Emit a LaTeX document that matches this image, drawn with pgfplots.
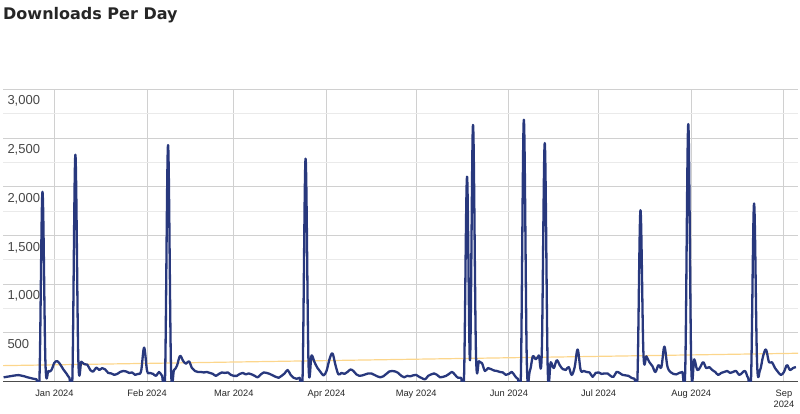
\documentclass[border=0pt]{standalone}
\usepackage{fontspec}
\setmainfont{Liberation Sans}
\newfontfamily\titlefont{DejaVu Sans}
\usepackage{pgfplots}
\pgfplotsset{compat=1.18}
\usepackage{pgfplotstable}

\definecolor{navy}{RGB}{40,56,125}
\definecolor{trend}{RGB}{252,214,140}
\definecolor{gridc}{RGB}{208,208,208}
\definecolor{gridm}{RGB}{234,234,234}

% day 0 = 1 Jan 2024
\pgfplotstableread{
day n
-17 45
-16 50
-15 55
-14 60
-13 65
-12 68
-11 62
-10 55
-9 45
-8 38
-7 30
-6 25
-5 40
-4 1950
-3 190
-2 110
-1 120
0 195
1 210
2 175
3 125
4 85
5 40
6 30
7 2330
8 220
9 205
10 180
11 175
12 120
13 105
14 145
15 120
16 140
17 125
18 90
19 85
20 70
21 80
22 100
23 110
24 105
25 90
26 95
27 70
28 80
29 110
30 350
31 110
32 90
33 80
34 60
35 100
36 60
37 40
38 2430
39 140
40 120
41 165
42 265
43 215
44 185
45 210
46 140
47 110
48 100
49 100
50 95
51 100
52 90
53 80
54 60
55 80
56 95
57 90
58 95
59 70
60 60
61 60
62 80
63 90
64 75
65 85
66 75
67 60
68 45
69 75
70 95
71 90
72 80
73 65
74 50
75 40
76 60
77 85
78 120
79 70
80 40
81 30
82 40
83 50
84 2290
85 170
86 270
87 200
88 140
89 100
90 65
91 110
92 230
93 290
94 170
95 75
96 90
97 80
98 100
99 125
100 110
101 75
102 60
103 65
104 75
105 85
106 85
107 70
108 55
109 45
110 55
111 80
112 105
113 110
114 105
115 90
116 60
117 45
118 60
119 55
120 65
121 70
122 50
123 35
124 25
125 60
126 75
127 85
128 70
129 45
130 50
131 60
132 80
133 100
134 70
135 40
136 40
137 50
138 2105
139 220
140 2636
141 280
142 210
143 190
144 110
145 140
146 130
147 115
148 110
149 100
150 95
151 70
152 80
153 100
154 60
155 30
156 50
157 2690
158 200
159 110
160 260
161 230
162 270
163 300
164 2450
165 120
166 200
167 140
168 220
169 170
170 130
171 120
172 150
173 70
174 150
175 330
176 120
177 110
178 100
179 95
180 50
181 90
182 95
183 80
184 85
185 85
186 60
187 50
188 100
189 90
190 70
191 65
192 60
193 40
194 30
195 40
196 1760
197 290
198 260
199 200
200 160
201 100
202 170
203 150
204 360
205 160
206 100
207 80
208 75
209 90
210 100
211 150
212 2645
213 160
214 230
215 120
216 150
217 200
218 140
219 150
220 120
221 100
222 70
223 90
224 100
225 110
226 90
227 100
228 110
229 70
230 90
231 110
232 40
233 40
234 1830
235 200
236 120
237 260
238 330
239 200
240 200
241 140
242 100
243 70
244 100
245 170
246 120
247 140
248 150
}\downloads

\begin{document}
\begin{tikzpicture}
\useasboundingbox (0,0) rectangle (800pt,414pt);
\node[anchor=base west, inner sep=0pt, text=black!85,
      font=\titlefont\bfseries\fontsize{16}{19}\selectfont] at (3pt,394.7pt) {Downloads Per Day};
\begin{axis}[
  at={(3pt,32.3pt)}, anchor=south west,
  scale only axis, width=795pt, height=292.2pt,
  xmin=-17.2, xmax=248.7, ymin=0, ymax=3000,
  axis line style={draw=none},
  tick style={draw=none},
  xtick={0,31,60,91,121,152,182,213,244},
  xticklabels={Jan 2024,Feb 2024,Mar 2024,Apr 2024,May 2024,Jun 2024,Jul 2024,Aug 2024,{Sep\\2024}},
  xticklabel style={font=\fontsize{9.3}{11.5}\selectfont, align=center, text=black!85,
                    inner sep=0pt, anchor=north, yshift=-8pt},
  ytick={500,1000,1500,2000,2500,3000},
  minor y tick num=1,
  yticklabel style={font=\fontsize{13}{15}\selectfont, text=black!72, inner sep=0pt,
                    anchor=base west, xshift=4.3pt, yshift=-15.5pt},
  /pgf/number format/assume math mode=true,
  xmajorgrids, ymajorgrids, yminorgrids,
  major grid style={gridc, line width=1pt},
  minor grid style={gridm, line width=1pt},
  extra y ticks={0}, extra y tick labels={},
  extra y tick style={grid=major, major grid style={black!70, line width=1pt}},
]
\addplot[trend, line width=1.2pt, forget plot] coordinates {(-17.2,165) (248.7,292)};
\addplot[navy, line width=2.3pt, smooth, tension=0.6, line join=round, mark=none]
  table[x=day, y=n] {\downloads};
\end{axis}
\end{tikzpicture}
\end{document}
